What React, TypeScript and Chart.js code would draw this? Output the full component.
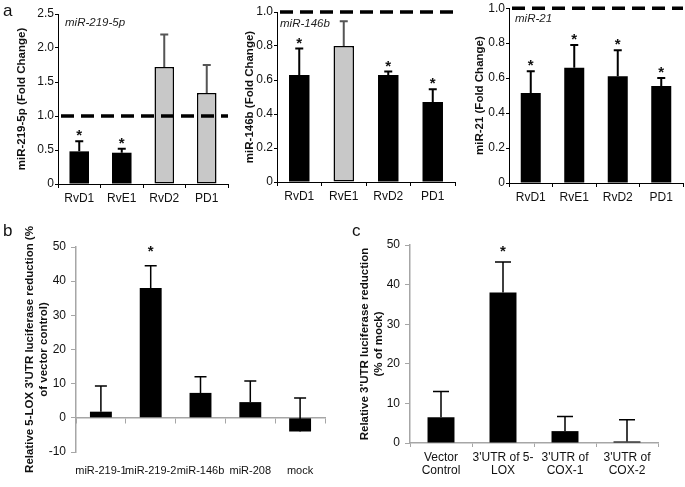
import React, { useEffect, useRef } from "react";
import { Chart, registerables } from "chart.js";
Chart.register(...registerables);

Chart.defaults.font.family = "'Liberation Sans', Arial, sans-serif";
Chart.defaults.color = "#111";

// ---------- Data ----------
const catsA = ["RvD1", "RvE1", "RvD2", "PD1"];

const a1Values = [0.48, 0.46, 1.72, 1.34];
const a1Errors = [0.15, 0.06, 0.48, 0.41];
const a1Stars = [true, true, false, false];
const a1Gray = [false, false, true, true];

const a2Values = [0.63, 0.8, 0.63, 0.47];
const a2Errors = [0.155, 0.145, 0.02, 0.075];
const a2Stars = [true, false, true, true];
const a2Gray = [false, true, false, false];

const a3Values = [0.515, 0.66, 0.61, 0.555];
const a3Errors = [0.125, 0.13, 0.15, 0.045];
const a3Stars = [true, true, true, true];
const a3Gray = [false, false, false, false];

const catsB = ["miR-219-1", "miR-219-2", "miR-146b", "miR-208", "mock"];
const bValues = [1.8, 38, 7.3, 4.6, -4];
const bErrors = [7.5, 6.5, 4.7, 6.2, 9.8];
const bStars = [false, true, false, false, false];

const catsC = [["Vector", "Control"], ["3'UTR of 5-", "LOX"], ["3'UTR of", "COX-1"], ["3'UTR of", "COX-2"]];
const cValues = [6.5, 38, 3, 0.4];
const cErrors = [6.5, 7.7, 3.7, 5.5];
const cStars = [false, true, false, false];

// ---------- helpers ----------
const GRAYAX = "#a6a6a6";

function makeOverlay(p: any) {
  return {
    id: "overlay",
    afterDatasetsDraw(chart: any) {
      const ctx = chart.ctx;
      const y = chart.scales.y;
      const meta = chart.getDatasetMeta(0);
      const area = chart.chartArea;
      ctx.save();
      p.values.forEach((v: number, i: number) => {
        const el = meta.data[i];
        const x = el.x;
        const y0 = y.getPixelForValue(v);
        const y1 = y.getPixelForValue(v + p.errors[i]);
        ctx.strokeStyle = p.gray && p.gray[i] ? "#555" : "#000";
        ctx.lineWidth = p.errWidth;
        ctx.setLineDash([]);
        ctx.beginPath();
        ctx.moveTo(x, y0);
        ctx.lineTo(x, y1);
        ctx.moveTo(x - p.cap / 2, y1);
        ctx.lineTo(x + p.cap / 2, y1);
        ctx.stroke();
        if (p.stars[i]) {
          ctx.fillStyle = "#111";
          ctx.font = "bold 15px 'Liberation Sans', Arial, sans-serif";
          ctx.textAlign = "center";
          ctx.textBaseline = "middle";
          ctx.fillText("*", x, y1 - p.starGap);
        }
      });
      if (p.ref != null) {
        const yr = y.getPixelForValue(p.ref);
        ctx.strokeStyle = "#000";
        ctx.lineWidth = 3.5;
        ctx.setLineDash([13, 7]);
        ctx.beginPath();
        ctx.moveTo(area.left + p.refStart, yr);
        ctx.lineTo(area.right + p.refEnd, yr);
        ctx.stroke();
        ctx.setLineDash([]);
      }
      if (p.inset) {
        ctx.fillStyle = "#222";
        ctx.font = "italic 11.5px 'Liberation Sans', Arial, sans-serif";
        ctx.textAlign = "left";
        ctx.textBaseline = "middle";
        ctx.fillText(p.inset, area.left + p.insetDx, area.top + p.insetDy);
      }
      ctx.restore();
    },
  };
}

function aConfig(p: any) {
  return {
    type: "bar",
    data: {
      labels: catsA,
      datasets: [
        {
          data: p.values,
          backgroundColor: p.gray.map((g: boolean) => (g ? "#c8c8c8" : "#000")),
          borderColor: "#000",
          borderWidth: p.gray.map((g: boolean) => (g ? 1.5 : 0)),
          borderSkipped: false,
          barPercentage: 0.46,
          categoryPercentage: 1,
        },
      ],
    },
    options: {
      responsive: false,
      animation: false,
      layout: { padding: { top: p.padTop, right: p.padRight, left: 0, bottom: 0 } },
      plugins: { legend: { display: false }, tooltip: { enabled: false } },
      scales: {
        x: {
          offset: true,
          grid: { display: true, drawOnChartArea: false, drawTicks: true, tickLength: 4, color: "#000", offset: true },
          border: { display: true, color: "#000", width: 1 },
          ticks: { font: { size: 12 }, color: "#111", padding: 3, maxRotation: 0, autoSkip: false },
          afterFit: (s: any) => {
            s.height = p.xh;
          },
        },
        y: {
          min: 0,
          max: p.max,
          ticks: {
            stepSize: p.step,
            font: { size: 12 },
            color: "#111",
            padding: 1,
            callback: (v: any) => (Number(v) === 0 ? "0" : Number(v).toFixed(1)),
          },
          grid: { drawOnChartArea: false, drawTicks: true, tickLength: 3, color: "#000" },
          border: { display: true, color: "#000", width: 1 },
          title: {
            display: true,
            text: p.title,
            color: "#111",
            font: { size: 11.5, weight: "bold" },
            padding: { top: p.titlePad, bottom: 0 },
          },
          afterFit: (s: any) => {
            s.width = p.yw;
          },
        },
      },
    },
    plugins: [makeOverlay({ ...p, errWidth: 2, cap: 8, starGap: 5, refStart: 3, refEnd: 0 })],
  };
}

function bConfig() {
  return {
    type: "bar",
    data: {
      labels: catsB,
      datasets: [
        {
          data: bValues,
          backgroundColor: "#000",
          borderWidth: 0,
          barPercentage: 0.44,
          categoryPercentage: 1,
          xAxisID: "x",
        },
      ],
    },
    options: {
      responsive: false,
      animation: false,
      layout: { padding: { top: 27, right: 15, left: 0, bottom: 0 } },
      plugins: { legend: { display: false }, tooltip: { enabled: false } },
      scales: {
        x: {
          type: "category",
          position: { y: 0 },
          offset: true,
          grid: { display: true, drawOnChartArea: false, drawTicks: true, tickLength: 5, color: GRAYAX, offset: true },
          border: { display: true, color: GRAYAX, width: 1.5 },
          ticks: { display: false },
        },
        x2: {
          type: "category",
          position: "bottom",
          labels: catsB,
          offset: true,
          grid: { display: false },
          border: { display: false },
          ticks: { font: { size: 11 }, color: "#111", padding: 4, maxRotation: 0, minRotation: 0, autoSkip: false },
          afterFit: (s: any) => {
            s.height = 35;
          },
        },
        y: {
          min: -10,
          max: 50,
          ticks: { stepSize: 10, font: { size: 12 }, color: "#111", padding: 5 },
          grid: { drawOnChartArea: false, drawTicks: true, tickLength: 5, color: GRAYAX },
          border: { display: true, color: GRAYAX, width: 1.5 },
          title: {
            display: true,
            text: ["Relative 5-LOX 3'UTR luciferase reduction (%", "of vector control)"],
            color: "#111",
            font: { size: 11.5, weight: "bold", lineHeight: "14px" },
            padding: { top: 23, bottom: 0 },
          },
          afterFit: (s: any) => {
            s.width = 76;
          },
        },
      },
    },
    plugins: [
      makeOverlay({ values: bValues, errors: bErrors, stars: bStars, errWidth: 1.5, cap: 12, starGap: 14 }),
    ],
  };
}

function cConfig() {
  return {
    type: "bar",
    data: {
      labels: catsC,
      datasets: [
        {
          data: cValues,
          backgroundColor: "#000",
          borderWidth: 0,
          barPercentage: 0.435,
          categoryPercentage: 1,
        },
      ],
    },
    options: {
      responsive: false,
      animation: false,
      layout: { padding: { top: 25, right: 27, left: 0, bottom: 0 } },
      plugins: { legend: { display: false }, tooltip: { enabled: false } },
      scales: {
        x: {
          offset: true,
          grid: { display: true, drawOnChartArea: false, drawTicks: true, tickLength: 4, color: GRAYAX, offset: true },
          border: { display: true, color: GRAYAX, width: 1.5 },
          ticks: { font: { size: 12, lineHeight: 1.1 }, color: "#111", padding: 4, maxRotation: 0, autoSkip: false },
          afterFit: (s: any) => {
            s.height = 44;
          },
        },
        y: {
          min: 0,
          max: 50,
          ticks: { stepSize: 10, font: { size: 12 }, color: "#111", padding: 5 },
          grid: { drawOnChartArea: false, drawTicks: true, tickLength: 5, color: GRAYAX },
          border: { display: true, color: GRAYAX, width: 1.5 },
          title: {
            display: true,
            text: ["Relative 3'UTR luciferase reduction", "(% of mock)"],
            color: "#111",
            font: { size: 11.5, weight: "bold", lineHeight: "14px" },
            padding: { top: 18, bottom: 0 },
          },
          afterFit: (s: any) => {
            s.width = 70;
          },
        },
      },
    },
    plugins: [
      makeOverlay({ values: cValues, errors: cErrors, stars: cStars, errWidth: 1.5, cap: 16, starGap: 10 }),
    ],
  };
}

function Panel(props: { left: number; top: number; width: number; height: number; make: () => any }) {
  const ref = useRef<HTMLCanvasElement | null>(null);
  useEffect(() => {
    const chart = new Chart(ref.current as HTMLCanvasElement, props.make());
    return () => chart.destroy();
  }, []);
  return (
    <div style={{ position: "absolute", left: props.left, top: props.top, width: props.width, height: props.height }}>
      <canvas ref={ref} width={props.width} height={props.height} style={{ width: props.width, height: props.height, display: "block" }} />
    </div>
  );
}

const letterStyle: React.CSSProperties = {
  position: "absolute",
  fontFamily: "'Liberation Sans', Arial, sans-serif",
  fontSize: 17,
  lineHeight: "17px",
  color: "#111",
};

export default function App() {
  return (
    <div style={{ position: "fixed", left: 0, top: 0, width: 685, height: 487, background: "#fff", overflow: "hidden" }}>
      <Panel
        left={0}
        top={0}
        width={232}
        height={215}
        make={() =>
          aConfig({
            values: a1Values, errors: a1Errors, stars: a1Stars, gray: a1Gray,
            max: 2.5, step: 0.5, padTop: 14, padRight: 4, yw: 58, xh: 31,
            title: "miR-219-5p (Fold Change)", titlePad: 15,
            ref: 1.0, inset: "miR-219-5p", insetDx: 7, insetDy: 9,
          })
        }
      />
      <Panel
        left={232}
        top={0}
        width={225}
        height={215}
        make={() =>
          aConfig({
            values: a2Values, errors: a2Errors, stars: a2Stars, gray: a2Gray,
            max: 1.0, step: 0.2, padTop: 12, padRight: 2, yw: 45, xh: 33,
            title: "miR-146b (Fold Change)", titlePad: 11,
            ref: 1.0, inset: "miR-146b", insetDx: 3, insetDy: 12,
          })
        }
      />
      <Panel
        left={457}
        top={0}
        width={228}
        height={215}
        make={() =>
          aConfig({
            values: a3Values, errors: a3Errors, stars: a3Stars, gray: a3Gray,
            max: 1.0, step: 0.2, padTop: 4, padRight: 2, yw: 52, xh: 32,
            title: "miR-21 (Fold Change)", titlePad: 16,
            ref: 1.0, inset: "miR-21", insetDx: 6, insetDy: 11,
          })
        }
      />
      <Panel left={0} top={220} width={340} height={267} make={bConfig} />
      <Panel left={340} top={220} width={345} height={267} make={cConfig} />
      <div style={{ ...letterStyle, left: 3, top: 2 }}>a</div>
      <div style={{ ...letterStyle, left: 3, top: 222 }}>b</div>
      <div style={{ ...letterStyle, left: 352, top: 222 }}>c</div>
    </div>
  );
}
